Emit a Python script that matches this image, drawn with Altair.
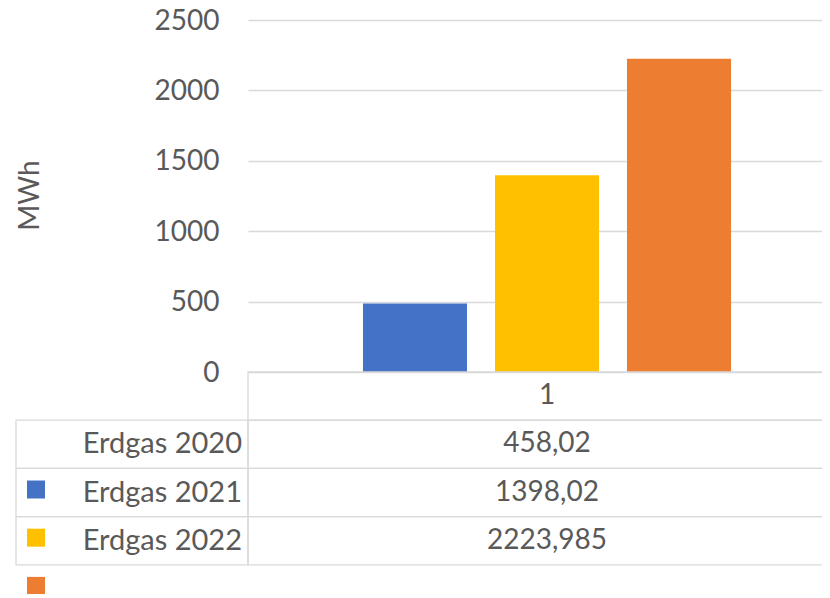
import altair as alt
import pandas as pd

# ---- data ----
category = "1"
series = ["Erdgas 2020", "Erdgas 2021", "Erdgas 2022"]
bar_values = [487, 1398.02, 2223.985]          # bar heights as drawn
table_texts = ["458,02", "1398,02", "2223,985"]  # data-table text as printed
colors = ["#4472C4", "#FFC000", "#ED7D31"]
y_ticks = [0, 500, 1000, 1500, 2000, 2500]
rows = ["hdr", "Erdgas 2020", "Erdgas 2021", "Erdgas 2022", "key"]
key_rows = ["Erdgas 2021", "Erdgas 2022", "key"]   # legend keys as placed in the picture

FONT = "Lato"
GREY = "#595959"
LINE = "#D9D9D9"
FS = 28

bars_df = pd.DataFrame({"cat": category, "series": series, "value": bar_values})
table_df = pd.DataFrame({"cat": category, "row": series, "label": series, "text": table_texts})
header_df = pd.DataFrame({"cat": [category], "row": ["hdr"], "text": [category]})
value_cells = pd.DataFrame({"row": ["hdr"] + series})
label_cells = pd.DataFrame({"row": series})
keys_df = pd.DataFrame({"row": key_rows, "series": series})

x_scale = alt.Scale(domain=[category], range=[0, 598], paddingInner=0, paddingOuter=0)
row_scale = alt.Scale(domain=rows, range=[352, 593], paddingInner=0, paddingOuter=0)
color_scale = alt.Scale(domain=series, range=colors)

bars = alt.Chart(bars_df).mark_bar().encode(
    x=alt.X("cat:N", scale=x_scale, axis=None),
    xOffset=alt.XOffset("series:N", scale=alt.Scale(domain=series, paddingInner=0.212, paddingOuter=0.871)),
    y=alt.Y("value:Q", scale=alt.Scale(domain=[0, 2500], nice=False),
            axis=alt.Axis(values=y_ticks, format="d", domain=False, ticks=False, tickSize=0,
                          labelPadding=29, labelOffset=1, labelFont=FONT, labelFontSize=FS, labelColor=GREY,
                          gridColor=LINE, gridWidth=1.3,
                          title="MWh", titleFont=FONT, titleFontSize=FS, titleFontWeight="normal",
                          titleColor=GREY, titleAngle=-90, titleX=-218, titleY=175,
                          titleAlign="center", titleBaseline="middle")),
    color=alt.Color("series:N", scale=color_scale, legend=None),
)

vcells = alt.Chart(value_cells).mark_rect(fill="transparent", stroke=LINE, strokeWidth=1.3).encode(
    x=alt.value(0), x2=alt.value(620),
    y=alt.Y("row:N", scale=row_scale, axis=None),
)
lcells = alt.Chart(label_cells).mark_rect(fill="transparent", stroke=LINE, strokeWidth=1.3).encode(
    x=alt.value(-232), x2=alt.value(0),
    y=alt.Y("row:N", scale=row_scale, axis=None),
)

labels = alt.Chart(table_df).mark_text(align="right", baseline="middle", font=FONT, fontSize=FS + 1, color=GREY).encode(
    x=alt.value(-6),
    y=alt.Y("row:N", scale=row_scale, axis=None),
    text="label:N",
)
values = alt.Chart(table_df).mark_text(align="center", baseline="middle", font=FONT, fontSize=FS, color=GREY).encode(
    x=alt.X("cat:N", scale=x_scale, axis=None),
    y=alt.Y("row:N", scale=row_scale, axis=None),
    text="text:N",
)
header = alt.Chart(header_df).mark_text(align="center", baseline="middle", font=FONT, fontSize=FS, color=GREY).encode(
    x=alt.X("cat:N", scale=x_scale, axis=None),
    y=alt.Y("row:N", scale=row_scale, axis=None),
    text="text:N",
)
keys = alt.Chart(keys_df).mark_square(size=324, opacity=1, yOffset=-3).encode(
    x=alt.value(-212),
    y=alt.Y("row:N", scale=row_scale, axis=None),
    color=alt.Color("series:N", scale=color_scale, legend=None),
)

chart = alt.layer(bars, vcells, lcells, labels, values, header, keys).resolve_scale(
    y="independent"
).properties(
    width=574, height=352, autosize="none",
    padding={"left": 240, "top": 12, "right": 0, "bottom": 222},
    background="white",
).configure_view(stroke=None)

chart.save("out.html", embed_options={"renderer": "svg", "actions": False})
